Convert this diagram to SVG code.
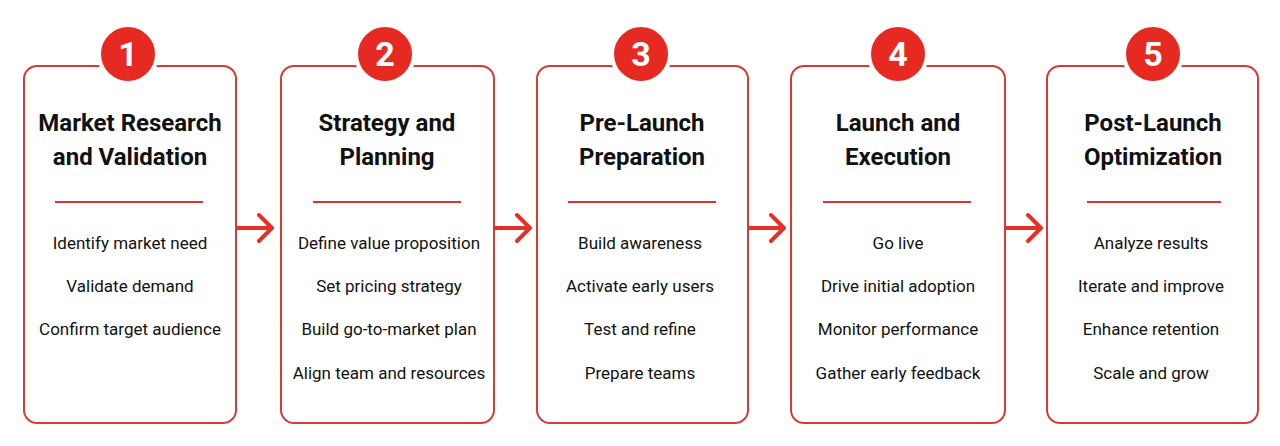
<svg xmlns="http://www.w3.org/2000/svg" width="1280" height="446" viewBox="0 0 1280 446">
<defs>
<style>
.box{fill:#ffffff;stroke:#d93a36;stroke-width:2}
.badge{fill:#e62a22}
.num{font-family:Roboto,"Liberation Sans",sans-serif;font-weight:700;font-size:34px;fill:#ffffff;text-anchor:middle}
.title{font-family:Roboto,"Liberation Sans",sans-serif;font-weight:700;font-size:24px;fill:#111111;text-anchor:middle}
.item{font-family:Roboto,"Liberation Sans",sans-serif;font-size:17px;fill:#111111;text-anchor:middle}
.div{stroke:#e0322c;stroke-width:2}
.arrow{fill:none;stroke:#e5302a;stroke-width:4;stroke-linecap:round;stroke-linejoin:round}
</style>
</defs>
<rect width="1280" height="446" fill="#ffffff"/>
<g id="connectors">
<path class="arrow" d="M237 228 H271 M259 215 L272 228 L259 241"/>
<path class="arrow" d="M495 228 H529 M517 215 L530 228 L517 241"/>
<path class="arrow" d="M749 228 H783 M771 215 L784 228 L771 241"/>
<path class="arrow" d="M1006 228 H1040 M1028 215 L1041 228 L1028 241"/>
</g>
<g id="step1">
<rect class="box" x="24" y="66" width="212" height="357" rx="13"/>
<circle class="badge" cx="128" cy="54" r="29" stroke="#ffffff" stroke-width="4"/>
<text class="num" x="128" y="66">1</text>
<text class="title" x="130" y="131">Market Research</text>
<text class="title" x="130" y="165">and Validation</text>
<line class="div" x1="55" y1="202" x2="203" y2="202"/>
<text class="item" x="130" y="249">Identify market need</text>
<text class="item" x="130" y="292">Validate demand</text>
<text class="item" x="130" y="335">Confirm target audience</text>
</g>
<g id="step2">
<rect class="box" x="281" y="66" width="213" height="357" rx="13"/>
<circle class="badge" cx="385" cy="54" r="29" stroke="#ffffff" stroke-width="4"/>
<text class="num" x="385" y="66">2</text>
<text class="title" x="387" y="131">Strategy and</text>
<text class="title" x="387" y="165">Planning</text>
<line class="div" x1="313" y1="202" x2="461" y2="202"/>
<text class="item" x="389" y="249">Define value proposition</text>
<text class="item" x="389" y="292">Set pricing strategy</text>
<text class="item" x="389" y="335">Build go-to-market plan</text>
<text class="item" x="389" y="379">Align team and resources</text>
</g>
<g id="step3">
<rect class="box" x="537" y="66" width="211" height="357" rx="13"/>
<circle class="badge" cx="641" cy="54" r="29" stroke="#ffffff" stroke-width="4"/>
<text class="num" x="641" y="66">3</text>
<text class="title" x="642" y="131">Pre-Launch</text>
<text class="title" x="642" y="165">Preparation</text>
<line class="div" x1="568" y1="202" x2="716" y2="202"/>
<text class="item" x="640" y="249">Build awareness</text>
<text class="item" x="640" y="292">Activate early users</text>
<text class="item" x="640" y="335">Test and refine</text>
<text class="item" x="640" y="379">Prepare teams</text>
</g>
<g id="step4">
<rect class="box" x="791" y="66" width="214" height="357" rx="13"/>
<circle class="badge" cx="898" cy="54" r="29" stroke="#ffffff" stroke-width="4"/>
<text class="num" x="898" y="66">4</text>
<text class="title" x="898" y="131">Launch and</text>
<text class="title" x="898" y="165">Execution</text>
<line class="div" x1="823" y1="202" x2="971" y2="202"/>
<text class="item" x="898" y="249">Go live</text>
<text class="item" x="898" y="292">Drive initial adoption</text>
<text class="item" x="898" y="335">Monitor performance</text>
<text class="item" x="898" y="379">Gather early feedback</text>
</g>
<g id="step5">
<rect class="box" x="1047" y="66" width="211" height="357" rx="13"/>
<circle class="badge" cx="1153" cy="54" r="29" stroke="#ffffff" stroke-width="4"/>
<text class="num" x="1153" y="66">5</text>
<text class="title" x="1153" y="131">Post-Launch</text>
<text class="title" x="1153" y="165">Optimization</text>
<line class="div" x1="1087" y1="202" x2="1221" y2="202"/>
<text class="item" x="1151" y="249">Analyze results</text>
<text class="item" x="1151" y="292">Iterate and improve</text>
<text class="item" x="1151" y="335">Enhance retention</text>
<text class="item" x="1151" y="379">Scale and grow</text>
</g>
</svg>
